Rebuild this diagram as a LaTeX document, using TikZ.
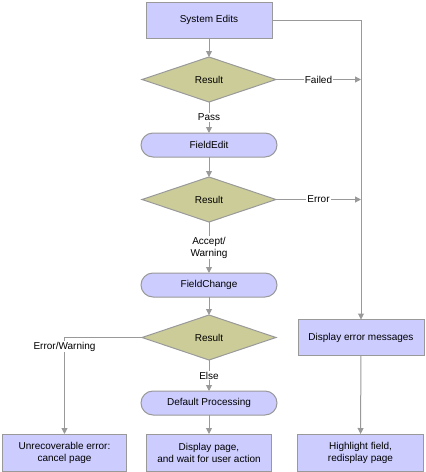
\documentclass[tikz,border=0pt]{standalone}
\usepackage{fontspec}
\setmainfont{Liberation Sans}
\usetikzlibrary{arrows.meta,positioning,shapes.geometric}
\definecolor{editLavender}{RGB}{204, 204, 255}
\definecolor{editOlive}{RGB}{204, 204, 153}
\definecolor{editGrey}{RGB}{153, 153, 153}

\begin{document}
\begin{tikzpicture}[
  x=1pt, y=-1pt,
  font=\fontsize{10}{12}\selectfont,
  task/.style={
    draw=editGrey,
    fill=editLavender,
    line width=1pt,
    minimum width=126pt,
    minimum height=36pt,
    align=center,
    inner sep=2pt,
    outer sep=0pt
  },
  event/.style={
    draw=editGrey,
    fill=editLavender,
    line width=1pt,
    rounded corners=12pt,
    minimum width=136pt,
    minimum height=24pt,
    inner sep=2pt,
    outer sep=0pt
  },
  result/.style={
    diamond,
    aspect=3,
    draw=editGrey,
    fill=editOlive,
    line width=1pt,
    minimum width=134pt,
    minimum height=45pt,
    inner sep=0pt,
    outer sep=0pt
  },
  flow/.style={
    draw=editGrey,
    line width=1pt,
    -{Triangle[length=6pt,width=6pt]}
  },
  tag/.style={fill=white, inner sep=1pt, align=center}
]
  \useasboundingbox (0,0) rectangle (426,472);

  \node[task] (sysedits) at (209,20) {System Edits};
  \node[result,below=19pt of sysedits] (res1) {Result};
  \node[event,below=31pt of res1] (fieldedit) {FieldEdit};
  \node[result,below=20pt of fieldedit] (res2) {Result};
  \node[event,below=51pt of res2] (fieldchange) {FieldChange};
  \node[result,below=18pt of fieldchange] (res3) {Result};
  \node[event,below=31pt of res3] (default) {Default Processing};
  \node[task,minimum width=125pt,minimum height=37pt,below=19pt of default] (waitpage) {Display page,\\and wait for user action};
  \node[task,minimum width=124pt,minimum height=37pt,left=20pt of waitpage] (cancel) {Unrecoverable error:\\cancel page};
  \node[task,minimum height=37pt,right=26pt of waitpage] (highlight) {Highlight field,\\redisplay page};
  \node[task,right=22pt of res3] (errmsg) {Display error messages};

  \coordinate (failjoin) at (res1.east -| errmsg.north);
  \coordinate (errjoin) at (res2.east -| errmsg.north);

  % main column
  \draw[flow] (sysedits) -- (res1);
  \draw[flow] (res1) -- node[tag] {Pass} (fieldedit);
  \draw[flow] (fieldedit) -- (res2);
  \draw[flow] (res2) -- node[tag] {Accept/\\Warning} (fieldchange);
  \draw[flow] (fieldchange) -- (res3);
  \draw[flow] (res3) -- node[tag] {Else} (default);
  \draw[flow] (default) -- (waitpage);
  \draw[flow] (res3.west) -| node[tag,pos=0.5,anchor=north,yshift=-3pt] {Error/Warning} (cancel.north);

  % error side
  \draw[flow] (sysedits.east) -| (errmsg.north);
  \draw[flow] (res1.east) -- node[tag] {Failed} (failjoin);
  \draw[flow] (res2.east) -- node[tag] {Error} (errjoin);
  \draw[flow] (errmsg) -- (highlight);
\end{tikzpicture}
\end{document}
